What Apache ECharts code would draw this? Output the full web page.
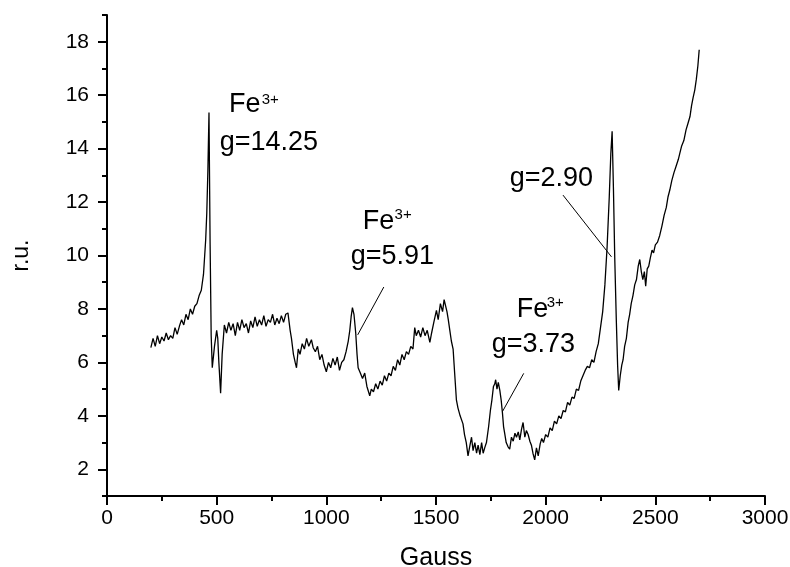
<!DOCTYPE html>
<html>
<head>
<meta charset="utf-8">
<title>EPR spectrum</title>
<script src="https://cdn.jsdelivr.net/npm/echarts@6/dist/echarts.min.js"></script>
<style>
  html, body { margin: 0; padding: 0; background: #fff; }
  #main { width: 790px; height: 567px; }
</style>
</head>
<body>
<div id="main"></div>
<script>
// magnetic field (Gauss) and signal (r.u.)
var gauss = [
  200, 210, 220, 230, 240, 250, 260, 270, 280, 290, 300, 310, 320, 330, 340, 350, 360, 370, 380, 390,
  400, 410, 420, 430, 440, 450, 455, 460, 465, 470, 475, 480, 490, 500, 505, 510, 518, 525, 535, 545,
  555, 565, 575, 585, 595, 605, 615, 625, 635, 645, 655, 665, 675, 685, 695, 705, 715, 725, 735, 745,
  755, 765, 775, 785, 795, 805, 815, 825, 835, 841, 850, 858, 864, 872, 880, 890, 900, 910, 920, 932,
  940, 950, 960, 970, 980, 990, 1000, 1010, 1020, 1030, 1040, 1050, 1060, 1070, 1080, 1090, 1100, 1107, 1113, 1119,
  1126, 1134, 1140, 1145, 1155, 1165, 1175, 1185, 1198, 1205, 1215, 1225, 1235, 1245, 1255, 1265, 1275, 1285, 1295, 1305,
  1315, 1325, 1335, 1345, 1355, 1365, 1375, 1385, 1395, 1403, 1410, 1420, 1430, 1440, 1450, 1460, 1472, 1480, 1490, 1502,
  1510, 1520, 1530, 1537, 1544, 1550, 1556, 1563, 1570, 1578, 1585, 1593, 1600, 1610, 1623, 1630, 1638, 1646, 1655, 1662,
  1669, 1677, 1685, 1692, 1700, 1708, 1715, 1722, 1730, 1740, 1748, 1755, 1762, 1768, 1772, 1778, 1784, 1791, 1797, 1803,
  1808, 1813, 1820, 1828, 1836, 1844, 1852, 1860, 1867, 1875, 1882, 1890, 1897, 1905, 1912, 1920, 1928, 1935, 1942, 1950,
  1958, 1966, 1975, 1982, 1990, 2000, 2010, 2020, 2030, 2040, 2050, 2060, 2070, 2080, 2090, 2100, 2110, 2120, 2130, 2140,
  2150, 2160, 2170, 2180, 2190, 2200, 2210, 2220, 2230, 2240, 2250, 2260, 2270, 2280, 2290, 2297, 2303, 2309, 2315, 2322,
  2328, 2333, 2340, 2347, 2353, 2360, 2368, 2376, 2383, 2390, 2398, 2406, 2414, 2422, 2429, 2436, 2443, 2450, 2456, 2463,
  2470, 2477, 2485, 2492, 2500, 2510, 2520, 2530, 2540, 2550, 2558, 2566, 2575, 2585, 2595, 2605, 2611, 2620, 2630, 2640,
  2649, 2658, 2665, 2672, 2680, 2687, 2694, 2700
]
var signal = [
  6.55, 6.9, 6.6, 7.0, 6.7, 6.95, 6.8, 7.1, 6.85, 7.0, 6.9, 7.3, 7.05, 7.35, 7.6, 7.4, 7.8, 7.6, 8.0, 7.8,
  8.1, 8.2, 8.5, 8.7, 9.3, 10.6, 11.6, 13.2, 15.35, 10.5, 7.0, 5.8, 6.6, 7.2, 6.9, 6.0, 4.85, 6.3, 7.4, 7.1,
  7.5, 7.2, 7.45, 7.0, 7.5, 7.2, 7.6, 7.3, 7.45, 7.1, 7.55, 7.3, 7.7, 7.35, 7.6, 7.4, 7.75, 7.35, 7.6, 7.5,
  7.8, 7.4, 7.65, 7.45, 7.75, 7.5, 7.8, 7.85, 7.2, 6.9, 6.3, 6.0, 5.8, 6.5, 6.3, 6.7, 6.5, 6.9, 6.6, 6.85,
  6.55, 6.4, 6.6, 6.1, 6.3, 5.9, 5.65, 6.0, 5.8, 6.15, 5.9, 6.2, 5.7, 6.0, 6.1, 6.4, 6.8, 7.2, 7.7, 8.05,
  7.8, 7.1, 6.3, 5.8, 5.6, 5.4, 5.6, 5.1, 4.75, 5.0, 4.9, 5.2, 5.0, 5.3, 5.15, 5.5, 5.3, 5.6, 5.5, 5.85,
  5.7, 6.1, 5.9, 6.3, 6.1, 6.4, 6.3, 6.6, 6.5, 7.3, 7.0, 7.2, 6.95, 7.3, 7.0, 7.2, 6.75, 7.1, 7.5, 7.95,
  7.6, 8.2, 7.9, 8.35, 8.3, 7.9, 7.6, 7.2, 6.8, 6.5, 5.6, 4.6, 4.3, 4.0, 3.7, 3.3, 3.0, 2.5, 2.9, 3.2,
  2.7, 3.0, 2.6, 2.9, 2.55, 3.0, 2.6, 2.8, 3.0, 3.6, 4.2, 4.6, 5.1, 5.2, 5.35, 5.0, 5.25, 4.95, 4.6, 4.1,
  3.6, 3.35, 3.0, 2.85, 2.75, 3.2, 3.05, 3.35, 3.2, 3.4, 3.1, 3.5, 3.75, 3.2, 3.45, 3.3, 3.05, 2.9, 2.6, 2.35,
  2.8, 2.5, 2.95, 3.15, 3.0, 3.3, 3.2, 3.55, 3.45, 3.8, 3.7, 4.0, 3.9, 4.2, 4.15, 4.5, 4.4, 4.7, 4.65, 5.0,
  4.95, 5.3, 5.5, 5.7, 5.85, 5.8, 6.1, 6.0, 6.4, 6.7, 7.3, 7.9, 8.9, 10.3, 12.2, 13.8, 14.65, 12.5, 9.9, 7.6,
  5.9, 4.95, 5.5, 5.9, 6.1, 6.6, 6.9, 7.5, 7.8, 8.2, 8.5, 8.9, 9.1, 9.6, 9.85, 9.4, 9.1, 9.4, 8.85, 9.5,
  9.6, 9.9, 10.2, 10.1, 10.4, 10.5, 10.75, 11.1, 11.5, 11.8, 12.2, 12.45, 12.8, 13.1, 13.35, 13.6, 13.8, 14.1, 14.3, 14.7,
  14.95, 15.2, 15.6, 15.9, 16.2, 16.6, 17.1, 17.7
]

// axis ticks
var xMajorTicks = [0, 500, 1000, 1500, 2000, 2500, 3000]
var yMajorTicks = [2, 4, 6, 8, 10, 12, 14, 16, 18]
var yMinorTicks = [1, 3, 5, 7, 9, 11, 13, 15, 17, 19]

// annotation texts and their anchors (Gauss, r.u.)
var annoText = ['Fe', '3+', 'g=14.25', 'Fe', '3+', 'g=5.91', 'Fe', '3+', 'g=3.73', 'g=2.90']
var annoGauss = [556, 705, 514, 1166, 1311, 1111, 1868, 2005, 1754, 1836]
var annoValue = [15.14, 15.55, 13.72, 10.77, 11.25, 9.46, 7.47, 7.96, 6.17, 12.37]
var annoSmall = [false, true, false, false, true, false, false, true, false, false]

// leader lines: [from, to]
var leaders = [
  [[1262, 8.82], [1143, 7.03]],
  [[1900, 5.59], [1803, 4.16]],
  [[2079, 12.26], [2300, 9.95]]
]

var FONT = 'Liberation Sans, Arial, sans-serif'
var points = gauss.map(function (g, i) { return [g, signal[i]] })
var plain = function (v) { return String(v) }

var chart = echarts.init(document.getElementById('main'))
chart.setOption({
  animation: false,
  backgroundColor: '#fff',
  grid: { left: 107, right: 25, top: 15, bottom: 71, outerBoundsMode: 'none', containLabel: false },
  xAxis: {
    type: 'value',
    min: 0,
    max: 3000,
    interval: 500,
    name: 'Gauss',
    nameLocation: 'middle',
    nameGap: 50,
    nameTextStyle: { color: '#000', fontSize: 25, fontFamily: FONT },
    axisLine: { lineStyle: { color: '#000', width: 2 } },
    axisTick: { length: 9, lineStyle: { color: '#000', width: 2 }, customValues: xMajorTicks },
    minorTick: { show: true, splitNumber: 2, length: 5, lineStyle: { color: '#000', width: 2 } },
    axisLabel: { color: '#000', fontSize: 21, fontFamily: FONT, margin: 12, formatter: plain, customValues: xMajorTicks },
    splitLine: { show: false }
  },
  yAxis: [
    {
      type: 'value',
      position: 'left',
      min: 1,
      max: 19,
      name: 'r.u.',
      nameLocation: 'middle',
      nameGap: 74,
      nameTextStyle: { color: '#000', fontSize: 23, fontFamily: FONT },
      axisLine: { lineStyle: { color: '#000', width: 2 } },
      axisTick: { length: 9, lineStyle: { color: '#000', width: 2 }, customValues: yMajorTicks },
      axisLabel: { color: '#000', fontSize: 21, fontFamily: FONT, margin: 18, formatter: plain, customValues: yMajorTicks },
      splitLine: { show: false }
    },
    {
      type: 'value',
      position: 'left',
      min: 1,
      max: 19,
      axisLine: { show: false },
      axisTick: { length: 5, lineStyle: { color: '#000', width: 2 }, customValues: yMinorTicks },
      axisLabel: { show: false },
      splitLine: { show: false }
    }
  ],
  series: [{
    type: 'line',
    data: points,
    showSymbol: false,
    symbol: 'none',
    lineStyle: { color: '#000', width: 1.3 },
    markLine: {
      silent: true,
      symbol: ['none', 'none'],
      label: { show: false },
      lineStyle: { color: '#000', width: 1, type: 'solid' },
      data: leaders.map(function (l) { return [{ coord: l[0] }, { coord: l[1] }] })
    }
  }]
})

// place annotation texts through the chart's own scales
var texts = annoText.map(function (t, i) {
  var p = chart.convertToPixel({ xAxisIndex: 0, yAxisIndex: 0 }, [annoGauss[i], annoValue[i]])
  return {
    type: 'text',
    x: p[0],
    y: p[1],
    style: {
      text: t,
      fill: '#000',
      font: (annoSmall[i] ? 15 : 27) + 'px ' + FONT,
      textAlign: 'left',
      textVerticalAlign: 'bottom'
    }
  }
})
chart.setOption({ graphic: texts })
</script>
</body>
</html>
